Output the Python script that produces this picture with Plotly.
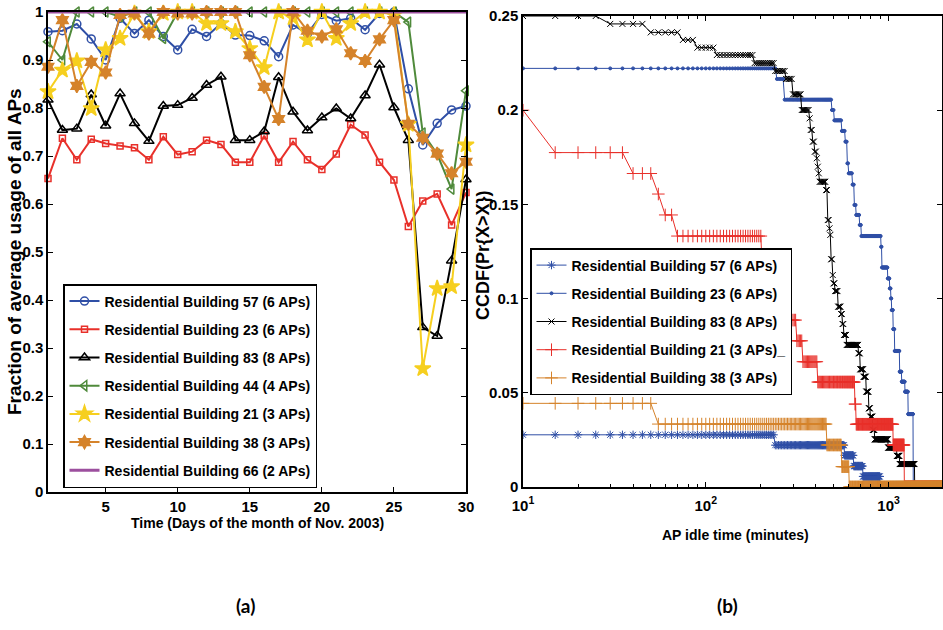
import numpy as np
import plotly.graph_objects as go

# ---------------- (a) daily usage fraction, November 2003 ----------------
days = list(range(1, 31))

bldg57 = [0.959, 0.961, 0.975, 0.944, 0.900, 0.987, 0.955, 0.983, 0.949, 0.921,
          0.964, 0.949, 0.976, 0.952, 0.951, 0.940, 0.907, 0.973, 0.955, 0.995,
          0.982, 0.987, 0.963, 0.997, 1.000, 0.840, 0.723, 0.768, 0.796, 0.804]
bldg23 = [0.653, 0.737, 0.692, 0.735, 0.726, 0.721, 0.717, 0.692, 0.740, 0.703,
          0.709, 0.733, 0.724, 0.687, 0.687, 0.742, 0.687, 0.730, 0.692, 0.672,
          0.704, 0.765, 0.744, 0.687, 0.650, 0.553, 0.606, 0.621, 0.556, 0.624]
bldg83 = [0.817, 0.754, 0.757, 0.828, 0.763, 0.830, 0.768, 0.731, 0.804, 0.806,
          0.821, 0.848, 0.865, 0.733, 0.733, 0.751, 0.864, 0.792, 0.753, 0.780,
          0.799, 0.778, 0.826, 0.890, 0.801, 0.733, 0.343, 0.325, 0.482, 0.651]
bldg44 = [0.938, 0.900, 1.000, 1.000, 1.000, 0.990, 1.000, 1.000, 0.945, 1.000,
          1.000, 1.000, 1.000, 1.000, 1.000, 1.000, 1.000, 1.000, 1.000, 1.000,
          1.000, 1.000, 1.000, 1.000, 1.000, 0.979, 0.748, 0.704, 0.631, 0.836]
bldg21 = [0.834, 0.879, 0.898, 0.799, 0.921, 0.945, 0.997, 0.959, 0.997, 1.000,
          1.000, 0.976, 0.976, 0.959, 0.924, 0.884, 1.000, 0.988, 0.942, 1.000,
          0.945, 0.976, 1.000, 1.000, 0.994, 0.766, 0.257, 0.424, 0.428, 0.723]
bldg38 = [0.886, 0.983, 0.846, 0.896, 0.874, 0.994, 0.997, 0.955, 1.000, 0.997,
          0.997, 1.000, 1.000, 1.000, 0.910, 0.844, 0.777, 1.000, 0.961, 0.949,
          0.964, 0.914, 0.898, 0.943, 0.983, 0.767, 0.738, 0.705, 0.664, 0.688]
bldg66 = [1.000] * 30

# ---------------- (b) CCDF of AP idle time (step levels) ----------------
# each series: minute at which a level starts, and the CCDF level from there on
idle57_start = [10, 240, 575, 645, 725, 900]
idle57_ccdf = [0.0277, 0.0222, 0.0168, 0.0111, 0.0056, 0.0]

idle23_start = [10, 245, 270, 490, 505, 555, 580, 595, 605, 635, 650, 665, 695, 710,
                910, 920, 990, 1015, 1030, 1040, 1060, 1080, 1150, 1180, 1230, 1280, 1365]
idle23_ccdf = [0.2222, 0.2166, 0.2056, 0.2001, 0.1946, 0.1890, 0.1833, 0.1718, 0.1665,
               0.1605, 0.1497, 0.1444, 0.1391, 0.1332, 0.1275, 0.1165, 0.1107, 0.1054,
               0.1001, 0.0939, 0.0838, 0.0722, 0.0612, 0.0559, 0.0506, 0.0387, 0.0]

idle83_start = [10, 30, 50, 75, 90, 115, 185, 240, 275, 300, 335, 370, 375, 385, 395,
                405, 410, 415, 420, 455, 465, 475, 480, 485, 495, 500, 510, 530, 550,
                560, 570, 590, 685, 700, 730, 755, 780, 795, 820, 840, 995, 1110, 1150, 1390]
idle83_ccdf = [0.2500, 0.2458, 0.2413, 0.2373, 0.2332, 0.2293, 0.2250, 0.2208, 0.2166,
               0.2084, 0.2001, 0.1957, 0.1895, 0.1833, 0.1780, 0.1745, 0.1700, 0.1665,
               0.1620, 0.1576, 0.1417, 0.1373, 0.1338, 0.1209, 0.1125, 0.1081, 0.1040,
               0.0957, 0.0918, 0.0865, 0.0807, 0.0754, 0.0710, 0.0625, 0.0585, 0.0506,
               0.0418, 0.0373, 0.0303, 0.0253, 0.0209, 0.0165, 0.0122, 0.0]

idle21_start = [10, 15, 40, 55, 60, 70, 205, 230, 275, 315, 340, 410, 655, 665, 1060, 1220]
idle21_ccdf = [0.2000, 0.1775, 0.1664, 0.1555, 0.1444, 0.1332, 0.1107, 0.1001, 0.0886,
               0.0776, 0.0665, 0.0557, 0.0440, 0.0333, 0.0223, 0.0]

idle38_start = [10, 55, 460, 555, 610]
idle38_ccdf = [0.0444, 0.0334, 0.0223, 0.0108, 0.0]

# idle time was sampled every 5 minutes
sample_minutes = np.arange(10, 1961, 5)


def at_samples(starts, levels):
    idx = np.searchsorted(starts, sample_minutes, side="right") - 1
    return np.asarray(levels)[idx]


SANS = "Liberation Sans, Arial, Helvetica, sans-serif"

BLUE = "#2f4fa6"
RED = "#e8302a"
GREEN = "#4f8a3b"
YELLOW = "#f6cf1f"
ORANGE = "#d5832b"
PURPLE = "#9c4f9e"

fig = go.Figure()

left_series = [
    ("Residential Building 57 (6 APs)", bldg57, BLUE, "circle-open", 8),
    ("Residential Building 23 (6 APs)", bldg23, RED, "square-open", 6),
    ("Residential Building 83 (8 APs)", bldg83, "black", "triangle-up-open", 9),
    ("Residential Building 44 (4 APs)", bldg44, GREEN, "triangle-left-open", 9),
    ("Residential Building 21 (3 APs)", bldg21, YELLOW, "star", 12),
    ("Residential Building 38 (3 APs)", bldg38, ORANGE, "hexagram", 10),
]
for i, (name, vals, col, sym, size) in enumerate(left_series):
    fig.add_trace(go.Scatter(
        x=days, y=vals, name=name, mode="lines+markers",
        line=dict(color=col, width=2),
        marker=dict(symbol=sym, size=size, color=col, line=dict(color=col, width=1.5)),
        cliponaxis=False, xaxis="x", yaxis="y", legend="legend",
        legendgroup=f"a{i}",
    ))
fig.add_trace(go.Scatter(
    x=days, y=bldg66, name="Residential Building 66 (2 APs)", mode="lines",
    line=dict(color=PURPLE, width=3), xaxis="x", yaxis="y", legend="legend",
    legendgroup="a6",
))

right_series = [
    ("Residential Building 57 (6 APs)", idle57_start, idle57_ccdf, BLUE, "asterisk-open", 7),
    ("Residential Building 23 (6 APs)", idle23_start, idle23_ccdf, BLUE, "circle", 3),
    ("Residential Building 83 (8 APs)", idle83_start, idle83_ccdf, "black", "x-thin-open", 6),
    ("Residential Building 21 (3 APs)_", idle21_start, idle21_ccdf, RED, "cross-thin-open", 9),
    ("Residential Building 38 (3 APs)", idle38_start, idle38_ccdf, ORANGE, "cross-thin-open", 9),
]
for i, (name, starts, levels, col, sym, size) in enumerate(right_series):
    fig.add_trace(go.Scatter(
        x=sample_minutes, y=at_samples(starts, levels), name=name, mode="lines+markers",
        line=dict(color=col, width=1),
        marker=dict(symbol=sym, size=size, color=col, line=dict(color=col, width=1)),
        xaxis="x2", yaxis="y2", legend="legend2", legendgroup=f"b{i}",
    ))

W, H = 943, 630
axis_common = dict(showline=True, linecolor="black", linewidth=1.5, mirror="ticks",
                   ticks="inside", ticklen=5, tickcolor="black", showgrid=False,
                   zeroline=False, automargin=False,
                   tickfont=dict(family=SANS, size=15, color="black", weight="bold"))

legend_common = dict(bgcolor="white", bordercolor="black", borderwidth=1.5,
                     font=dict(family=SANS, size=14, color="black", weight="bold"),
                     xanchor="left", yanchor="top", tracegroupgap=7, itemwidth=30)

fig.update_layout(
    width=W, height=H, margin=dict(l=0, r=0, t=0, b=0),
    paper_bgcolor="white", plot_bgcolor="white", template="none",
    xaxis=dict(domain=[48 / W, 466 / W], range=[1, 30], tickvals=[5, 10, 15, 20, 25, 30],
               anchor="y", **axis_common),
    yaxis=dict(domain=[1 - 492 / H, 1 - 12 / H], range=[0, 1], dtick=0.1,
               anchor="x", **axis_common),
    xaxis2=dict(domain=[523 / W, 942 / W], type="log", range=[1, np.log10(1960)],
                tickvals=[10, 100, 1000],
                ticktext=["10<sup>1</sup>", "10<sup>2</sup>", "10<sup>3</sup>"],
                ticklabelstandoff=4,
                minor=dict(ticks="inside", ticklen=3, tickcolor="black",
                           tickvals=[20, 30, 40, 50, 60, 70, 80, 90,
                                     200, 300, 400, 500, 600, 700, 800, 900]),
                anchor="y2", **axis_common),
    yaxis2=dict(domain=[1 - 487 / H, 1 - 16 / H], range=[0, 0.25], dtick=0.05,
                anchor="x2", **axis_common),
    legend=dict(x=63 / W, y=1 - 284 / H, **legend_common),
    legend2=dict(x=530 / W, y=1 - 248 / H, **legend_common),
    showlegend=True,
)

annotations = [
    dict(text="Fraction of average usage of all APs", x=14 / W, y=1 - 252 / H, textangle=-90,
         font=dict(family=SANS, size=19, weight="bold")),
    dict(text="Time (Days of the month of Nov. 2003)", x=257 / W, y=1 - 523 / H,
         font=dict(family=SANS, size=14, weight="bold")),
    dict(text="AP idle time (minutes)", x=735 / W, y=1 - 535 / H,
         font=dict(family=SANS, size=14, weight="bold")),
    dict(text="CCDF(Pr{X>X})", x=483 / W, y=1 - 255 / H, textangle=-90,
         font=dict(family=SANS, size=18, weight="bold")),
    dict(text="(a)", x=245 / W, y=1 - 605 / H, font=dict(family="Lato", size=19, weight="bold")),
    dict(text="(b)", x=727 / W, y=1 - 605 / H, font=dict(family="Lato", size=19, weight="bold")),
]
for a in annotations:
    a.update(xref="paper", yref="paper", showarrow=False, xanchor="center", yanchor="middle")
    a["font"].setdefault("color", "black")
fig.update_layout(annotations=annotations)

fig.write_html("out.html")
